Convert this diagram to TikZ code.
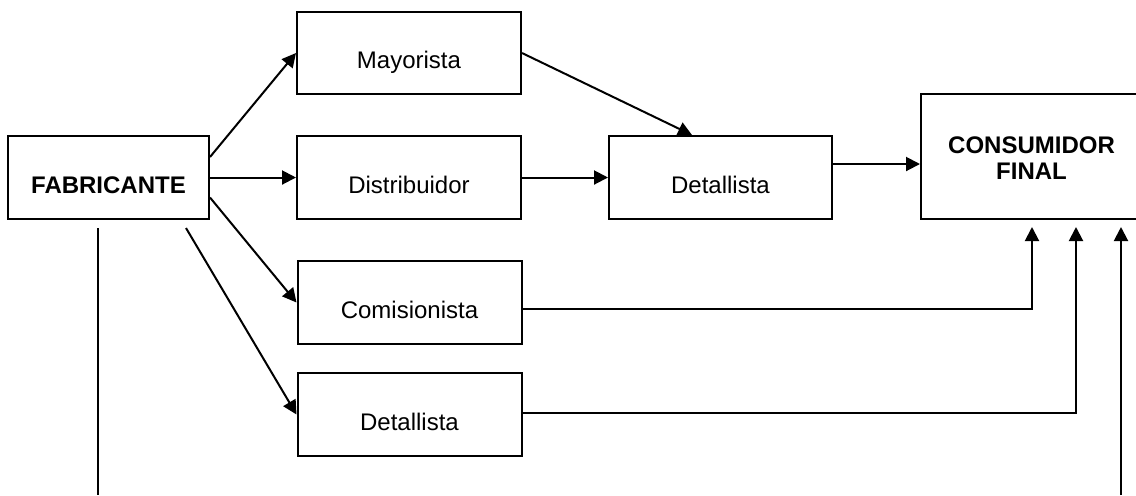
\documentclass[tikz,border=0pt]{standalone}
\usepackage{fontspec}
\setmainfont{Liberation Sans}
\usetikzlibrary{arrows.meta}

\tikzset{
  box/.style={draw=black, line width=1pt, rectangle, inner sep=2pt,
    font=\fontsize{12}{13}\selectfont, text height=18pt, text depth=2.4pt},
  boldbox/.style={box, font=\fontsize{12}{13}\selectfont\bfseries},
  link/.style={draw=black, line width=1pt,
    -{Triangle[length=7pt,width=7pt]}},
  plain/.style={draw=black, line width=1pt}
}

\begin{document}
\begin{tikzpicture}[x=0.5pt, y=-0.5pt]
  % frame of the drawing
  \path[use as bounding box, clip] (0,0) rectangle (1136,495);
  \fill[white] (0,0) rectangle (1136,495);

  % channel members
  \node[boldbox, minimum width=100.5pt, minimum height=41.5pt] (fab)  at (108.5,177.5) {FABRICANTE};
  \node[box, minimum width=112pt, minimum height=41pt]   (may)  at (409,53)      {Mayorista};
  \node[box, minimum width=112pt, minimum height=41.5pt] (dist) at (409,177.5)   {Distribuidor};
  \node[box, minimum width=111.5pt, minimum height=41.5pt] (det1) at (720.5,177.5) {Detallista};
  \node[box, minimum width=112pt, minimum height=41.5pt] (com)  at (409.5,302.5) {Comisionista};
  \node[box, minimum width=112pt, minimum height=41.5pt] (det2) at (409.5,414.5) {Detallista};
  \node[draw=black, line width=1pt, minimum width=110.5pt, minimum height=62.5pt,
        align=center, font=\fontsize{12}{13}\selectfont\bfseries,
        text height=24pt, text depth=1.5pt]
        (cons) at (1031.5,156.5) {CONSUMIDOR\\FINAL};

  % free ends of the connectors
  \coordinate (c1) at (1032,227);
  \coordinate (c2) at (1076,227);
  \coordinate (c3) at (1121,227);
  \coordinate (b1) at (98,495);
  \coordinate (b2) at (1121,495);

  % flows leaving the manufacturer
  \draw[link] ([yshift=10.25pt]fab.east) -- (may.west);
  \draw[link] (fab.east) -- (dist.west);
  \draw[link] ([yshift=-10pt]fab.east) -- (com.west);
  \draw[link] ([xshift=38.75pt,yshift=-4pt]fab.south) -- (det2.west);
  \draw[plain] ([xshift=-5.25pt,yshift=-4pt]fab.south) -- (b1);

  % intermediate flows
  \draw[link] (may.east) -- ([xshift=-14.25pt]det1.north);
  \draw[link] (dist.east) -- (det1.west);
  \draw[link] ([yshift=6.75pt]det1.east) -- ([yshift=6.75pt]det1.east -| cons.west);

  % flows reaching the final consumer
  \draw[link] ([yshift=-3.25pt]com.east) -| (c1);
  \draw[link] ([yshift=0.75pt]det2.east) -| (c2);
  \draw[link] (b2) -- (c3);
\end{tikzpicture}
\end{document}
